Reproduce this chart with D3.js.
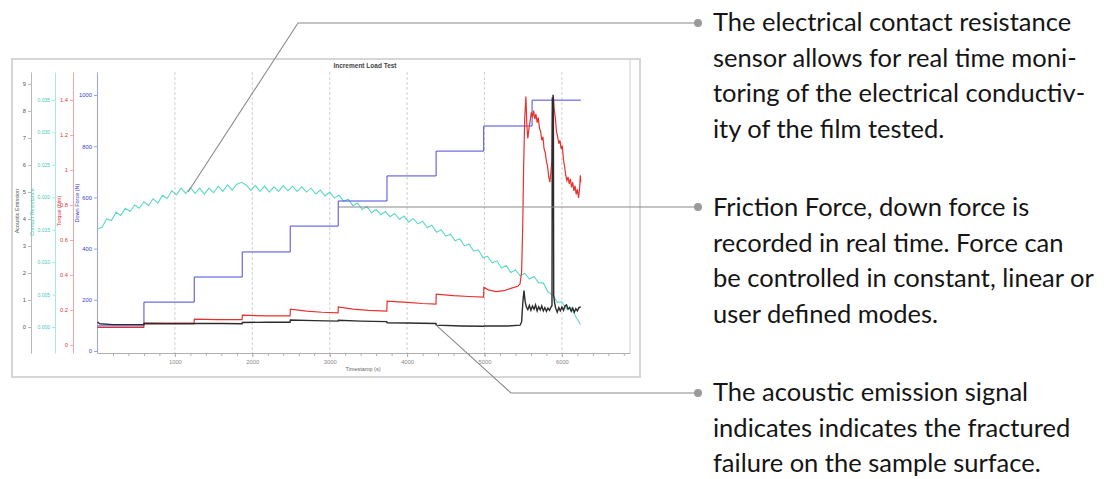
<!DOCTYPE html>
<html><head><meta charset="utf-8">
<script src="https://cdn.jsdelivr.net/npm/d3@7"></script>
<style>body{margin:0;background:#fff;} svg{display:block;}</style>
</head><body>
<svg id="c" width="1108" height="479"></svg>
<script>
// ---------------- DATA ----------------
const chartTitle = "Increment Load Test";
const xTickValues = [1000, 2000, 3000, 4000, 5000, 6000];
const aeTicks = [0,1,2,3,4,5,6,7,8,9];
const crTicks = [0,0.005,0.010,0.015,0.020,0.025,0.030,0.035];
const torqueTicks = [0,0.2,0.4,0.6,0.8,1,1.2,1.4];
const forceTicks = [0,200,400,600,800,1000];

// Down force (N): step start times (s) and levels
const forceStepTimes = [0, 600, 1250, 1870, 2490, 3110, 3740, 4375, 4990, 5615];
const forceEndTime = 6245;
const forceLevels = [98, 191, 289, 387, 488, 586, 684, 781, 879, 980];

// Contact resistance, sampled every 60 s
const crTimes = d3.range(0, 6241, 60);
const crValues = [0.0151,0.0154,0.0167,0.0164,0.0177,0.0172,0.0183,0.0178,0.0188,0.0183,
0.0193,0.0187,0.0198,0.0191,0.0203,0.0198,0.0210,0.0204,0.0214,0.0206,
0.0215,0.0206,0.0214,0.0205,0.0214,0.0207,0.0217,0.0209,0.0219,0.0211,
0.0220,0.0223,0.0219,0.0211,0.0218,0.0209,0.0217,0.0208,0.0216,0.0209,
0.0218,0.0210,0.0217,0.0209,0.0216,0.0208,0.0214,0.0205,0.0211,0.0202,
0.0208,0.0199,0.0203,0.0194,0.0197,0.0187,0.0191,0.0181,0.0186,0.0176,
0.0181,0.0173,0.0178,0.0170,0.0175,0.0166,0.0171,0.0162,0.0167,0.0159,
0.0163,0.0153,0.0157,0.0146,0.0150,0.0140,0.0143,0.0133,0.0136,0.0125,
0.0128,0.0117,0.0119,0.0107,0.0109,0.0099,0.0102,0.0091,0.0095,0.0084,
0.0088,0.0079,0.0083,0.0074,0.0078,0.0068,0.0068,0.0054,0.0050,0.0038,
0.0039,0.0028,0.0030,0.0016,0.0004];

// Torque (Nm)
const torqueTimes = [0,300,598,602,900,1248,1252,1550,1868,1872,2200,2488,2492,2700,2900,3108,3112,3300,3500,3738,3742,4000,4200,4373,4377,4600,4800,4988,4992,5050,5150,5250,5350,5430,5460,5480,5495,5505,5520,5535,5548,5560,5575,5590,5605,5620,5635,5650,5665,5680,5695,5710,5725,5740,5755,5770,5785,5800,5815,5830,5845,5858,5870,5880,5890,5900,5915,5930,5945,5960,5975,5990,6005,6020,6035,6050,6065,6080,6095,6110,6125,6140,6155,6170,6185,6200,6215,6230,6238,6245];
const torqueValues = [0.10,0.10,0.10,0.125,0.125,0.127,0.147,0.145,0.145,0.17,0.166,0.166,0.205,0.193,0.187,0.183,0.217,0.205,0.198,0.194,0.251,0.243,0.237,0.234,0.29,0.282,0.277,0.274,0.33,0.315,0.305,0.31,0.325,0.335,0.35,0.42,0.7,1.0,1.3,1.42,1.25,1.18,1.24,1.28,1.33,1.30,1.34,1.29,1.32,1.27,1.30,1.24,1.22,1.17,1.19,1.12,1.10,1.05,1.02,0.96,0.93,0.99,1.05,1.38,1.42,1.35,1.30,1.22,1.19,1.15,1.17,1.12,1.14,1.06,1.02,0.97,0.94,0.96,0.92,0.95,0.90,0.93,0.88,0.91,0.86,0.89,0.84,0.90,0.97,0.93];

// Acoustic emission
const aeTimes = [0,30,200,598,602,900,1248,1252,1600,1868,1872,2200,2488,2492,2800,3108,3112,3400,3738,3742,4000,4373,4377,4700,4988,4992,5300,5460,5480,5495,5510,5525,5540,5560,5580,5600,5620,5640,5660,5680,5700,5720,5740,5760,5780,5800,5820,5840,5860,5872,5876,5882,5886,5890,5894,5905,5920,5940,5960,5980,6000,6020,6040,6060,6080,6100,6120,6140,6160,6180,6200,6220,6245];
const aeValues = [0.18,0.12,0.09,0.09,0.13,0.12,0.12,0.13,0.13,0.12,0.17,0.18,0.18,0.26,0.24,0.22,0.25,0.22,0.20,0.16,0.15,0.13,0.07,0.04,0.03,0.04,0.04,0.07,0.2,0.9,1.35,0.95,0.75,0.65,0.8,0.62,0.78,0.66,0.82,0.6,0.75,0.63,0.78,0.6,0.72,0.58,0.7,0.62,0.74,0.8,8.5,4.0,8.6,8.4,1.2,0.9,0.7,0.55,0.72,0.6,0.74,0.62,0.78,0.82,0.66,0.72,0.58,0.7,0.55,0.68,0.6,0.72,0.75];

// Annotation texts
const note1 = ["The electrical contact resistance","sensor allows for real time moni-","toring of the electrical conductiv-","ity of the film tested."];
const note2 = ["Friction Force, down force is","recorded in real time. Force can","be controlled in constant, linear or","user defined modes."];
const note3 = ["The acoustic emission signal","indicates indicates the fractured","failure on the sample surface."];

// ---------------- DRAW ----------------
const svg = d3.select("#c");
const pTop = 72, pBottom = 353, pLeft = 97.5, pRight = 630;

const x = d3.scaleLinear().domain([0, 6880]).range([pLeft, pRight]);
const yAE = d3.scaleLinear().domain([-0.96, 9.44]).range([pBottom, pTop]);
const yCR = d3.scaleLinear().domain([-0.0040, 0.0393]).range([pBottom, pTop]);
const yTq = d3.scaleLinear().domain([-0.046, 1.560]).range([pBottom, pTop]);
const yF  = d3.scaleLinear().domain([-7.8, 1090]).range([pBottom, pTop]);

// panel frame
svg.append("rect").attr("x",12).attr("y",59).attr("width",628).attr("height",318)
  .attr("fill","#fff").attr("stroke","#d6d6d6").attr("stroke-width",2);
svg.append("line").attr("x1",pRight).attr("x2",pRight).attr("y1",60).attr("y2",pBottom)
  .attr("stroke","#d0d0d0");

// title
svg.append("text").attr("x",365).attr("y",68).attr("text-anchor","middle")
  .attr("font-family","Liberation Sans, Arial").attr("font-size",6.5).attr("font-weight","bold")
  .attr("fill","#444").text(chartTitle);

// gridlines
svg.append("g").selectAll("line").data(xTickValues).join("line")
  .attr("x1",d=>x(d)).attr("x2",d=>x(d)).attr("y1",pTop).attr("y2",pBottom)
  .attr("stroke","#c4c4c4").attr("stroke-dasharray","3,2").attr("stroke-width",0.8);

// x axis
const gx = svg.append("g").attr("transform",`translate(0,${pBottom})`)
  .call(d3.axisBottom(x).tickValues(xTickValues).tickSize(4).tickSizeOuter(0).tickPadding(3).tickFormat(d3.format("d")));
gx.select(".domain").attr("stroke","#b0b0b0");
gx.selectAll(".tick line").attr("stroke","#b0b0b0");
gx.selectAll("text").attr("font-size",5.8).attr("fill","#888").attr("font-family","Liberation Sans, Arial");
const gxm = svg.append("g").attr("transform",`translate(0,${pBottom})`)
  .call(d3.axisBottom(x).tickValues(d3.range(200, 6880, 200)).tickSize(3).tickFormat(""));
gxm.select(".domain").remove();
gxm.selectAll(".tick line").attr("stroke","#b0b0b0");
svg.append("text").attr("x",363).attr("y",371).attr("text-anchor","middle")
  .attr("font-family","Liberation Sans, Arial").attr("font-size",5.5).attr("fill","#666").text("Timestamp (s)");

// y axes
function yAxis(scale, xpos, ticks, fmt, axisColor, textColor, title, titleX, titleY, fs){
  const g = svg.append("g").attr("transform",`translate(${xpos},0)`)
    .call(d3.axisLeft(scale).tickValues(ticks).tickSize(3).tickSizeOuter(0).tickPadding(2).tickFormat(fmt));
  g.select(".domain").attr("stroke",axisColor);
  g.selectAll(".tick line").attr("stroke",axisColor);
  g.selectAll("text").attr("font-size",fs).attr("fill",textColor).attr("font-family","Liberation Sans, Arial");
  svg.append("text").attr("transform",`translate(${titleX},${titleY}) rotate(-90)`)
    .attr("text-anchor","middle").attr("font-family","Liberation Sans, Arial").attr("font-size",5.5)
    .attr("fill",textColor).text(title);
}
yAxis(yAE, 31, aeTicks, d3.format("d"), "#b8b8b8", "#555", "Acoustic Emission", 19, 211, 5.8);
yAxis(yCR, 55, crTicks, d3.format(".3f"), "#a6ebe2", "#3fcab9", "Contact Resistance", 34, 212, 5);
yAxis(yTq, 73, torqueTicks, d=>d3.format("~g")(d), "#f3a9a9", "#e03a3a", "Torque (Nm)", 61, 211, 5.8);
yAxis(yF, 97, forceTicks, d3.format("d"), "#a0a0f2", "#3c3cd0", "Down Force (N)", 79, 203, 5.8);

// series
const crPts = d3.zip(crTimes, crValues);
svg.append("path").datum(crPts).attr("fill","none").attr("stroke","#5cd8c8").attr("stroke-width",1.1)
  .attr("d", d3.line().x(d=>x(d[0])).y(d=>yCR(d[1])));

const fPts = forceStepTimes.map((t,i)=>[t, forceLevels[i]]).concat([[forceEndTime, forceLevels[forceLevels.length-1]]]);
svg.append("path").datum(fPts).attr("fill","none").attr("stroke","#4a4ade").attr("stroke-width",1)
  .attr("d", d3.line().curve(d3.curveStepAfter).x(d=>x(d[0])).y(d=>yF(d[1])));

const tqPts = d3.zip(torqueTimes, torqueValues);
svg.append("path").datum(tqPts).attr("fill","none").attr("stroke","#e8302f").attr("stroke-width",1.2)
  .attr("d", d3.line().x(d=>x(d[0])).y(d=>yTq(d[1])));

const aePts = d3.zip(aeTimes, aeValues);
svg.append("path").datum(aePts).attr("fill","none").attr("stroke","#2c2c2c").attr("stroke-width",1.4)
  .attr("d", d3.line().x(d=>x(d[0])).y(d=>yAE(d[1])));

// annotations
const lc = "#8a8a8a";
const dotX = 698;
const a1 = [x(1170), yCR(0.0208)];
svg.append("polyline").attr("points",`${a1[0]},${a1[1]} 298,23 ${dotX},23`).attr("fill","none").attr("stroke",lc).attr("stroke-width",1.1);
svg.append("line").attr("x1",x(3110)).attr("y1",207).attr("x2",dotX).attr("y2",207).attr("stroke",lc).attr("stroke-width",1.1);
const a3 = [x(4375), yAE(0.07)];
svg.append("polyline").attr("points",`${a3[0]},${a3[1]} 511,393 ${dotX},393`).attr("fill","none").attr("stroke",lc).attr("stroke-width",1.1);
svg.selectAll("circle.dot").data([23,207,393]).join("circle").attr("class","dot")
  .attr("cx",dotX).attr("cy",d=>d).attr("r",4).attr("fill","#9a9a9a");

function note(lines, y0){
  const t = svg.append("text").attr("font-family","Lato, 'Open Sans', sans-serif").attr("font-size",25.5).attr("fill","#151515");
  lines.forEach((s,i)=>t.append("tspan").attr("x",713).attr("y",y0 + i*35.5 + 8).text(s));
}
note(note1, 23);
note(note2, 208);
note(note3, 393);
</script>
</body></html>
